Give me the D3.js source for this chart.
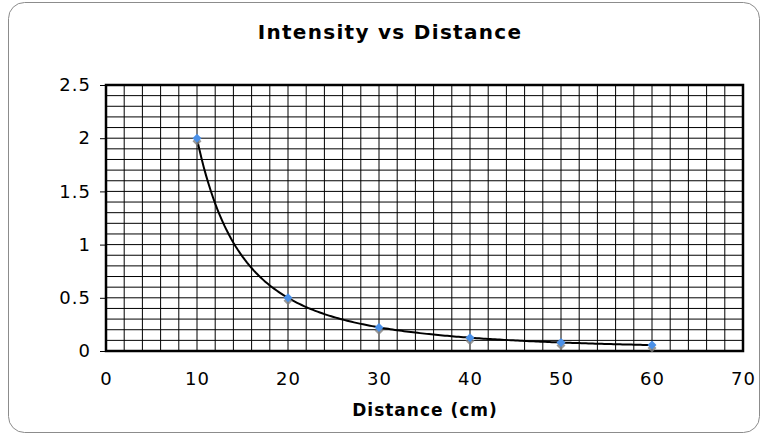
<!DOCTYPE html>
<html><head><meta charset="utf-8">
<script src="https://cdn.jsdelivr.net/npm/d3@7"></script>
<style>html,body{margin:0;padding:0;background:#fff;}</style>
</head><body>
<svg id="c" width="765" height="436"></svg>
<script>
const distances = [10, 20, 30, 40, 50, 60];
const intensities = [2.0, 0.5, 0.22, 0.125, 0.08, 0.056];
const xTicks = [0, 10, 20, 30, 40, 50, 60, 70];
const yTicks = [0, 0.5, 1, 1.5, 2, 2.5];
const titleText = "Intensity vs Distance";
const xTitleText = "Distance (cm)";

const svg = d3.select("#c");
const font = "'DejaVu Sans', Verdana, sans-serif";
const L = 106, R = 743, T = 85, B = 351;

svg.append("rect").attr("x", 8.5).attr("y", 2.5).attr("width", 751).attr("height", 430)
  .attr("rx", 16).attr("fill", "#fff").attr("stroke", "#8c8c8c").attr("stroke-width", 1);

const x = d3.scaleLinear().domain([0, 70]).range([L, R]);
const y = d3.scaleLinear().domain([0, 2.5]).range([B, T]);

// grid
const g = svg.append("g");
g.selectAll("line.v").data(d3.range(0, 70.001, 2)).join("line")
  .attr("x1", d => x(d)).attr("x2", d => x(d)).attr("y1", T).attr("y2", B)
  .attr("stroke", "#000").attr("stroke-width", 1);
g.selectAll("line.h").data(d3.range(0, 26).map(i => i / 10)).join("line")
  .attr("x1", L).attr("x2", R).attr("y1", d => y(d)).attr("y2", d => y(d))
  .attr("stroke", "#000").attr("stroke-width", 1);

// y axis
const yAxis = d3.axisLeft(y).tickValues(yTicks).tickSize(6).tickPadding(9)
  .tickFormat(d => String(d));
const ya = svg.append("g").attr("transform", `translate(${L},0)`).call(yAxis);
ya.select(".domain").remove();
ya.selectAll("line").attr("stroke", "#000");
ya.selectAll("text").attr("font-family", font).attr("font-size", 18)
  .attr("letter-spacing", 1).attr("fill", "#000");

// x axis
const xAxis = d3.axisBottom(x).tickValues(xTicks).tickSize(0).tickPadding(21)
  .tickFormat(d => String(d));
const xa = svg.append("g").attr("transform", `translate(0,${B})`).call(xAxis);
xa.select(".domain").remove();
xa.selectAll("text").attr("font-family", font).attr("font-size", 18)
  .attr("letter-spacing", 1).attr("fill", "#000");

// plot border
svg.append("rect").attr("x", L).attr("y", T).attr("width", R - L).attr("height", B - T)
  .attr("fill", "none").attr("stroke", "#000").attr("stroke-width", 2.5);

// power trendline fit
const lx = distances.map(Math.log), ly = intensities.map(Math.log);
const mx = d3.mean(lx), my = d3.mean(ly);
const b = d3.sum(lx.map((v, i) => (v - mx) * (ly[i] - my))) / d3.sum(lx.map(v => (v - mx) ** 2));
const a = Math.exp(my - b * mx);
const xs = d3.range(0, 201).map(i => distances[0] + (distances[distances.length - 1] - distances[0]) * i / 200);
svg.append("path").datum(xs)
  .attr("d", d3.line().x(d => x(d)).y(d => y(a * Math.pow(d, b))))
  .attr("fill", "none").attr("stroke", "#000").attr("stroke-width", 2);

// markers
const diamond = d3.symbol().type(d3.symbolSquare).size(40);
const pts = distances.map((d, i) => ({ d, v: intensities[i] }));
svg.selectAll("path.sh").data(pts).join("path")
  .attr("d", diamond).attr("transform", p => `translate(${x(p.d)},${y(p.v) + 3}) rotate(45)`)
  .attr("fill", "#808080").attr("opacity", 0.8);
svg.selectAll("path.pt").data(pts).join("path")
  .attr("d", diamond).attr("transform", p => `translate(${x(p.d)},${y(p.v)}) rotate(45)`)
  .attr("fill", "#4a90e8");

// titles
svg.append("text").attr("x", 390).attr("y", 39).attr("text-anchor", "middle")
  .attr("font-family", font).attr("font-weight", "bold").attr("font-size", 20)
  .attr("letter-spacing", 1.3).text(titleText);
svg.append("text").attr("x", 425).attr("y", 416).attr("text-anchor", "middle")
  .attr("font-family", font).attr("font-weight", "bold").attr("font-size", 17)
  .attr("letter-spacing", 1).text(xTitleText);
</script>
</body></html>
